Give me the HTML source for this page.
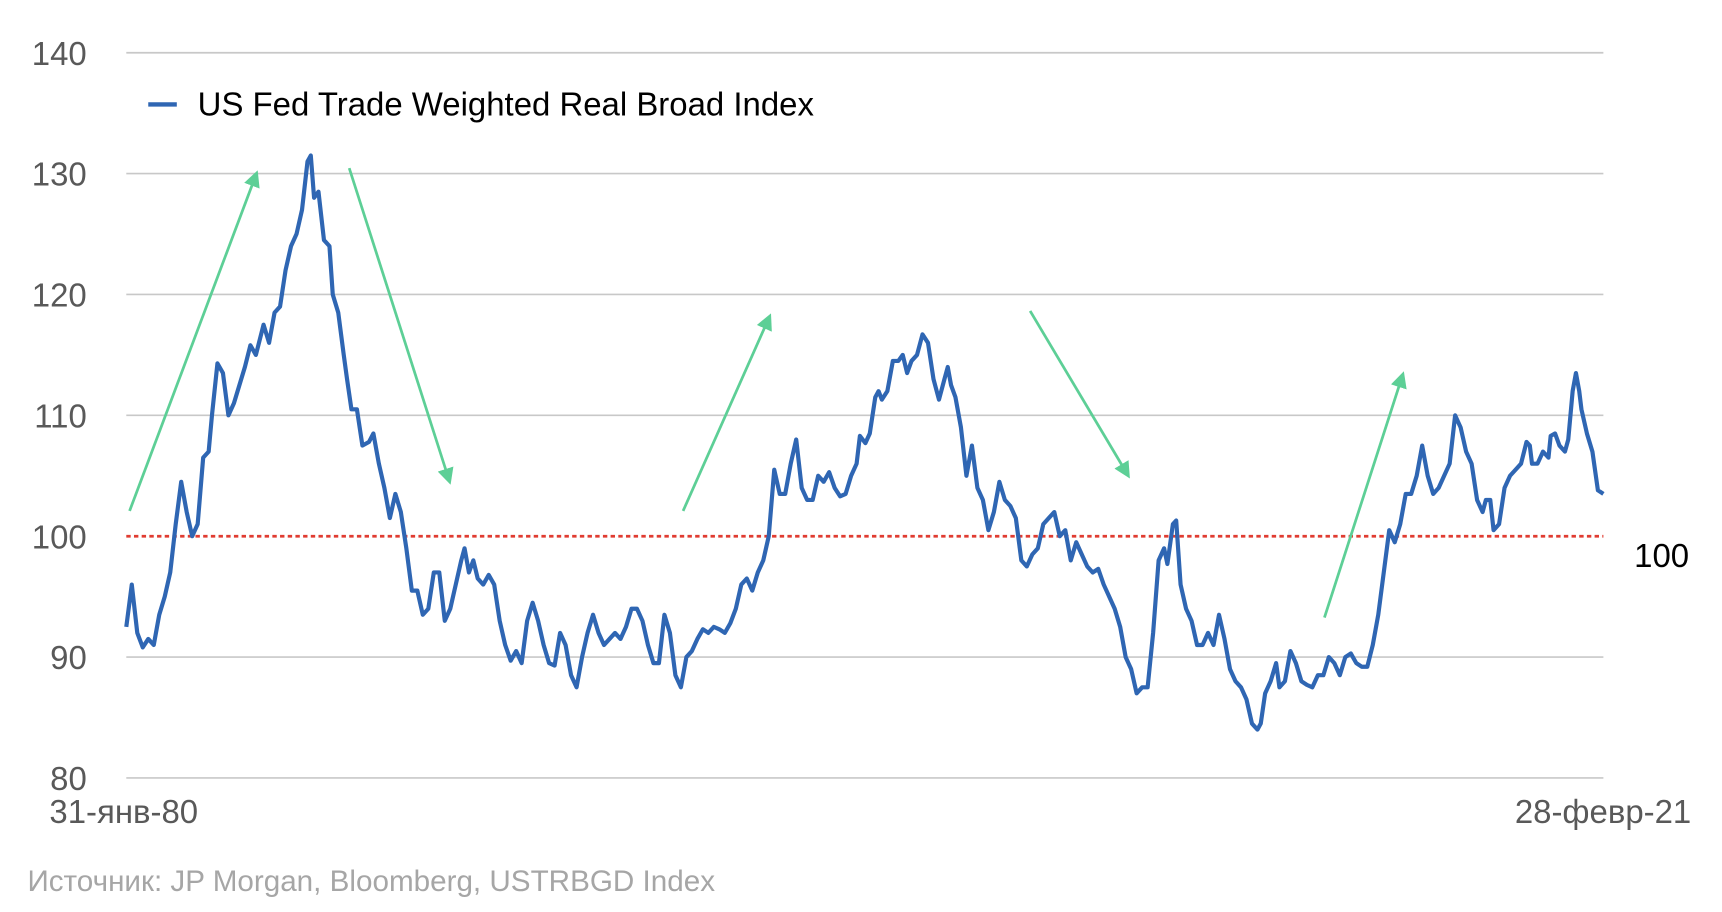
<!DOCTYPE html>
<html><head><meta charset="utf-8"><style>
html,body{margin:0;padding:0;background:#fff}
svg{display:block}
text{font-family:"Liberation Sans",sans-serif}
</style></head><body>
<svg width="1722" height="912" viewBox="0 0 1568 830" preserveAspectRatio="none" xmlns="http://www.w3.org/2000/svg">
<defs><marker id="ah" markerWidth="6" markerHeight="6" refX="3" refY="3" orient="auto" markerUnits="strokeWidth"><path d="M0,0 L6,3 L0,6 Z" fill="#5dcf96"/></marker></defs>
<g stroke="#c8c8c8" stroke-width="1.5">
<line x1="115" y1="48" x2="1460" y2="48"/><line x1="115" y1="158" x2="1460" y2="158"/>
<line x1="115" y1="268" x2="1460" y2="268"/><line x1="115" y1="378" x2="1460" y2="378"/>
<line x1="115" y1="598" x2="1460" y2="598"/><line x1="115" y1="708" x2="1460" y2="708"/>
</g>
<g fill="#595959" font-size="30" text-anchor="end">
<text x="79" y="59">140</text><text x="79" y="169">130</text><text x="79" y="279">120</text>
<text x="79" y="389">110</text><text x="79" y="499">100</text><text x="79" y="609">90</text><text x="79" y="719">80</text>
</g>
<line x1="115" y1="488" x2="1460" y2="488" stroke="#e03c31" stroke-width="2.5" stroke-dasharray="4,3"/>
<text x="1488" y="516" font-size="30" fill="#000">100</text>
<line x1="135" y1="95" x2="161" y2="95" stroke="#2f66b3" stroke-width="4"/>
<text x="180" y="105" font-size="30" fill="#000">US Fed Trade Weighted Real Broad Index</text>
<text x="45" y="749" font-size="30" fill="#595959">31-янв-80</text>
<text x="1540" y="749" font-size="30" fill="#595959" text-anchor="end">28-февр-21</text>
<text x="25" y="811" font-size="27" fill="#a6a6a6">Источник: JP Morgan, Bloomberg, USTRBGD Index</text>
<g stroke="#5dcf96" stroke-width="2.5" marker-end="url(#ah)">
<line x1="118" y1="465" x2="232" y2="162"/>
<line x1="318" y1="153" x2="408" y2="434"/>
<line x1="622" y1="465" x2="699" y2="292"/>
<line x1="938" y1="283" x2="1025" y2="429"/>
<line x1="1206" y1="562" x2="1276" y2="345"/>
</g>
<polyline fill="none" stroke="#2f66b3" stroke-width="3.8" stroke-linejoin="round" points="115,570.5 120,532 125,576 130,589.2 135,581.5 140,587 145,559.5 150,543 155,521 160,477 165,438.5 170,466 175,488 180,477 185,416.5 190,411 193,378 198,330.7 203,339.5 208,378 213,367 218,350.5 223,334 228,314.2 233,323 240,295.5 245,312 250,284.5 255,279 260,246 265,224 270,213 275,191 280,147 283,141.5 286,180 290,174.5 295,218.5 300,224 303,268 308,284.5 313,323 316,345 320,372.5 325,372.5 330,405.5 336,402.2 340,394.5 345,422 350,444 355,471.5 360,449.5 365,466 370,499 375,537.5 380,537.5 385,559.5 390,554 395,521 400,521 405,565 410,554 415,532 420,510 423,499 427,521 431,510 435,526.5 440,532 445,523.2 450,532 455,565 460,587 465,601.3 470,592.5 475,603.5 480,565 485,548.5 490,565 495,587 500,603.5 505,605.7 510,576 515,587 520,614.5 525,625.5 530,598 535,576 540,559.5 545,576 550,587 555,581.5 560,576 565,581.5 570,570.5 575,554 580,554 585,565 590,587 595,603.5 600,603.5 605,559.5 610,576 615,614.5 620,625.5 625,598 630,592.5 635,581.5 640,572.7 645,576 650,570.5 655,572.7 660,576 665,567.2 670,554 675,532 680,526.5 685,537.5 690,521 695,510 700,488 705,427.5 710,449.5 715,449.5 720,422 725,400 730,444 735,455 740,455 745,433 750,438.5 755,429.7 760,444 765,451.7 770,449.5 775,433 780,422 783,396.7 788,403.3 792,394.5 797,361.5 800,356 803,363.7 808,356 813,328.5 818,328.5 822,323 826,339.5 830,328.5 835,323 840,304.3 845,312 850,345 855,363.7 860,345 863,334 866,350.5 870,361.5 875,389 880,433 885,405.5 890,444 895,455 900,482.5 905,466 910,438.5 915,455 920,460.5 925,471.5 930,510 935,515.5 940,504.5 945,499 950,477 955,471.5 960,466 965,488 970,482.5 975,510 980,493.5 985,504.5 990,515.5 995,521 1000,517.7 1005,532 1010,543 1015,554 1020,570.5 1025,598 1030,609 1035,631 1040,625.5 1045,625.5 1050,576 1055,510 1060,499 1063,513.3 1068,477 1071,473.7 1075,532 1080,554 1085,565 1090,587 1095,587 1100,576 1105,587 1110,559.5 1115,581.5 1120,609 1125,620 1130,625.5 1135,636.5 1140,658.5 1145,664 1148,658.5 1152,631 1157,620 1162,603.5 1165,625.5 1170,620 1175,592.5 1180,603.5 1185,620 1190,623.3 1195,625.5 1200,614.5 1205,614.5 1210,598 1215,603.5 1220,614.5 1225,598 1230,594.7 1235,603.5 1240,606.8 1245,606.8 1250,587 1255,559.5 1260,521 1265,482.5 1270,493.5 1275,477 1280,449.5 1285,449.5 1290,433 1295,405.5 1300,433 1305,449.5 1310,444 1315,433 1320,422 1325,378 1330,389 1335,411 1340,422 1345,455 1350,466 1353,455 1357,455 1360,482.5 1365,477 1370,444 1375,433 1380,427.5 1385,422 1390,402.2 1393,405.5 1395,422 1400,422 1405,411 1410,416.5 1412,396.7 1416,394.5 1420,405.5 1425,411 1428,400 1432,356 1435,339.5 1438,356 1440,372.5 1445,394.5 1450,411 1455,446.2 1460,449.5"/>
</svg>
</body></html>
